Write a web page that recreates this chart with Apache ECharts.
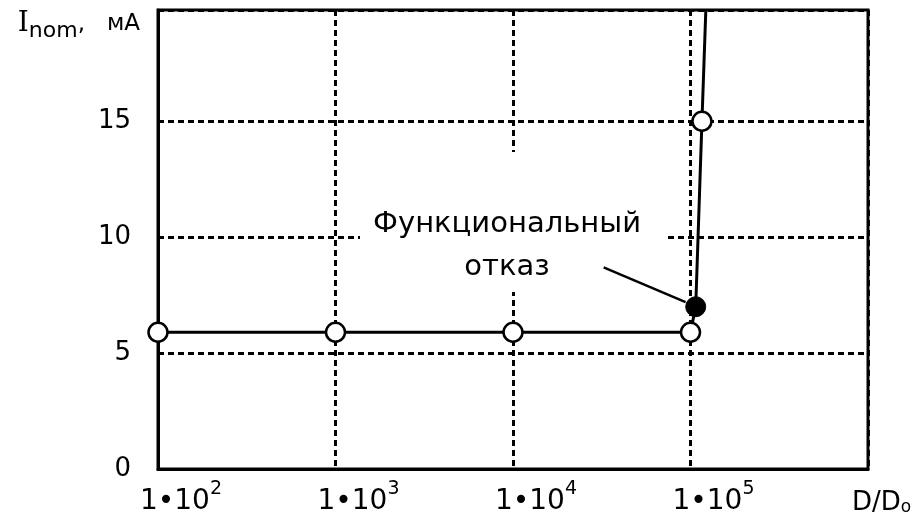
<!DOCTYPE html>
<html>
<head>
<meta charset="utf-8">
<script src="https://cdn.jsdelivr.net/npm/echarts@6/dist/echarts.min.js"></script>
<style>
  html, body { margin: 0; padding: 0; background: #fff; }
  #chart { width: 921px; height: 521px; }
</style>
</head>
<body>
<div id="chart"></div>
<script>
// Supply current versus relative dose D/D0
const doseRatio  = [100, 1000, 10000, 100000, 107000, 116000, 122000];
const currentMA  = [5.9, 5.9, 5.9, 5.9, 7.0, 15, 19.8];
const markerKind = ['open', 'open', 'open', 'open', 'filled', 'open', 'none'];

// Axis ticks
const xTickValues = [100, 1000, 10000, 100000, 1000000];
const xTickMain   = ['1•10', '1•10', '1•10', '1•10', 'D/D'];
const xTickSup    = ['2', '3', '4', '5', ''];
const xTickSub    = ['', '', '', '', 'o'];
const yTickValues = [0, 5, 10, 15];

// Failure callout
const calloutLines = ['Функциональный', 'отказ'];
const leaderFrom = [32400, 8.7];
const leaderTo   = [93800, 7.2];

const FONT = 'DejaVu Sans';
const BLACK = '#000';

const seriesData = doseRatio.map((x, i) => {
  const kind = markerKind[i];
  const item = { value: [x, currentMA[i]] };
  if (kind === 'none') {
    item.symbol = 'none';
  } else if (kind === 'filled') {
    item.symbolSize = 20;
    item.itemStyle = { color: BLACK, borderColor: BLACK, borderWidth: 1 };
  } else {
    item.symbolSize = 19;
    item.itemStyle = { color: '#fff', borderColor: BLACK, borderWidth: 2.5 };
  }
  return item;
});

const chart = echarts.init(document.getElementById('chart'), null, { renderer: 'canvas' });

const dashed = { type: [6, 4], color: BLACK, width: 3 };

chart.setOption({
  animation: false,
  backgroundColor: '#fff',
  textStyle: { fontFamily: FONT, color: BLACK },
  grid: {
    left: 158, right: 53, top: 10, bottom: 52,
    show: true, borderColor: BLACK, borderWidth: 3, backgroundColor: 'transparent'
  },
  xAxis: {
    type: 'log',
    logBase: 10,
    min: xTickValues[0],
    max: xTickValues[xTickValues.length - 1],
    splitNumber: 4,
    axisLine: { show: true, lineStyle: { color: BLACK, width: 3 } },
    axisTick: { show: false },
    splitLine: { show: true, lineStyle: dashed },
    axisLabel: {
      show: true,
      showMinLabel: true,
      showMaxLabel: true,
      margin: 11,
      align: 'center',
      formatter: (v) => {
        const i = xTickValues.findIndex(t => Math.abs(Math.log10(t) - Math.log10(v)) < 1e-6);
        if (i < 0) return '';
        if (xTickSub[i]) return '{d|' + xTickMain[i] + '}{o|' + xTickSub[i] + '}';
        return '{m|' + xTickMain[i] + '}{s|' + xTickSup[i] + '}';
      },
      rich: {
        m: { fontFamily: FONT, fontSize: 28, lineHeight: 36, verticalAlign: 'bottom', color: BLACK, padding: [0, 0, 0, 46] },
        s: { fontFamily: FONT, fontSize: 19, lineHeight: 20, verticalAlign: 'top', color: BLACK },
        d: { fontFamily: FONT, fontSize: 26, lineHeight: 36, verticalAlign: 'bottom', color: BLACK, padding: [0, 0, 0, 27] },
        o: { fontFamily: FONT, fontSize: 17, lineHeight: 17, verticalAlign: 'bottom', color: BLACK }
      }
    }
  },
  yAxis: {
    type: 'value',
    min: 0,
    max: 19.8,
    interval: 5,
    name: '{i|I}{s|nom}{u|,   мА}',
    nameLocation: 'end',
    nameGap: -14,
    nameTextStyle: {
      align: 'right',
      verticalAlign: 'middle',
      padding: [0, 18, 0, 0],
      rich: {
        i: { fontFamily: 'DejaVu Serif', fontSize: 28, lineHeight: 36, verticalAlign: 'middle', color: BLACK },
        s: { fontFamily: FONT, fontSize: 22, lineHeight: 22, verticalAlign: 'bottom', color: BLACK },
        u: { fontFamily: FONT, fontSize: 23, lineHeight: 36, verticalAlign: 'middle', color: BLACK }
      }
    },
    axisLine: { show: true, lineStyle: { color: BLACK, width: 3 } },
    axisTick: { show: false },
    splitLine: { show: true, lineStyle: dashed },
    axisLabel: {
      showMaxLabel: false,
      margin: 27,
      fontFamily: FONT,
      fontSize: 26,
      color: BLACK,
      padding: [0, 0, 12, 0],
      formatter: (v) => (yTickValues.indexOf(v) >= 0 ? String(v) : '')
    }
  },
  series: [{
    type: 'line',
    data: seriesData,
    symbol: 'circle',
    showAllSymbol: true,
    lineStyle: { color: BLACK, width: 3 },
    itemStyle: { color: '#fff', borderColor: BLACK },
    z: 3,
    markLine: {
      silent: true,
      symbol: 'none',
      label: { show: false },
      lineStyle: { color: BLACK, width: 2.5, type: 'solid' },
      data: [[{ coord: leaderFrom }, { coord: leaderTo }]]
    }
  }]
});

// Callout: white panel over the grid and two centred lines of text
chart.setOption({
  graphic: [
    { type: 'rect', z: 1, shape: { x: 360, y: 152, width: 308, height: 140 }, style: { fill: '#fff' } },
    { type: 'text', z: 4, x: 507, y: 224,
      style: { text: calloutLines[0], font: '29px "' + FONT + '"', fill: BLACK, textAlign: 'center', textVerticalAlign: 'middle' } },
    { type: 'text', z: 4, x: 507, y: 267,
      style: { text: calloutLines[1], font: '29px "' + FONT + '"', fill: BLACK, textAlign: 'center', textVerticalAlign: 'middle' } }
  ]
});
</script>
</body>
</html>
